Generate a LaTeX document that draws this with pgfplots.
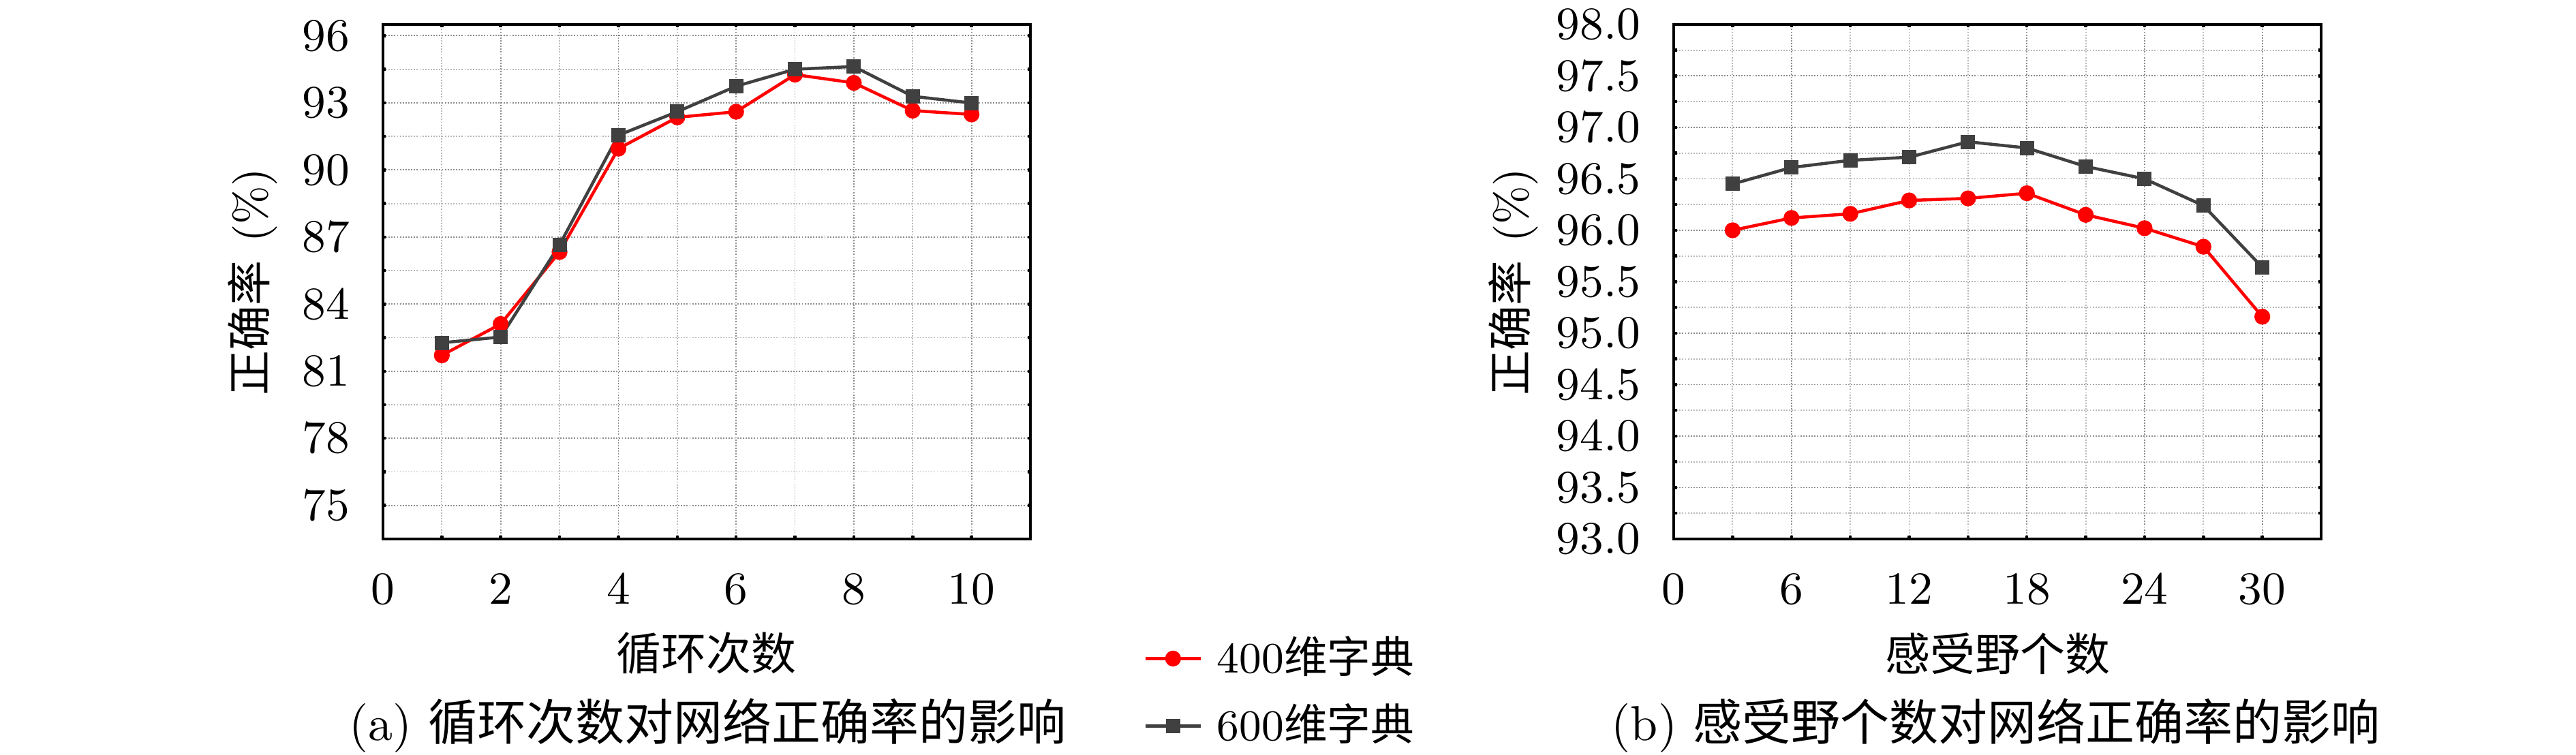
\documentclass[border=0pt]{standalone}
\usepackage{fontspec}
\usepackage{pgfplots}
\pgfplotsset{compat=1.18}
\usepackage{pgfplotstable}
\newfontfamily\cjk{Noto Sans CJK SC}
\definecolor{myred}{RGB}{255,0,0}
\definecolor{mygray}{RGB}{64,64,64}

\pgfplotstableread{
x a b
1 81.71 82.27
2 83.11 82.53
3 86.33 86.65
4 90.95 91.55
5 92.35 92.60
6 92.60 93.74
7 94.26 94.50
8 93.89 94.62
9 92.65 93.29
10 92.48 92.99
}\loopdata

\pgfplotstableread{
x a b
3 96.00 96.45
6 96.12 96.61
9 96.16 96.68
12 96.29 96.71
15 96.31 96.86
18 96.36 96.80
21 96.15 96.62
24 96.02 96.50
27 95.84 96.24
30 95.16 95.64
}\fielddata

\pgfplotsset{
  mystyle/.style={
    scale only axis, width=126.67pt, height=100.67pt,
    axis line style={line width=0.45pt},
    tick style={black, line width=0.6pt},
    major tick length=0.6pt, minor tick length=0.6pt,
    grid=both,
    major grid style={dash pattern=on 0.25pt off 0.3pt, black!45, line width=0.25pt},
    minor grid style={dash pattern=on 0.25pt off 0.3pt, black!28, line width=0.25pt},
    tick label style={font=\fontsize{8.8}{10}\selectfont},
    yticklabel style={inner sep=0pt, anchor=east, xshift=-6.3pt},
    xticklabel style={inner sep=0pt, anchor=north, yshift=-6.8pt},
    label style={font=\fontsize{8.8}{10}\selectfont\cjk},
    xlabel style={at={(axis description cs:0.5,-0.2225)}, anchor=center},
    minor x tick num=1, minor y tick num=1,
    legend image code/.code={\draw[mark repeat=2,mark phase=2,#1] plot coordinates {(0pt,0pt) (5.4pt,0pt) (10.8pt,0pt)};},
  },
  redline/.style={myred, line width=0.6pt, mark=*, mark size=1.25pt, mark options={solid, fill=myred}},
  grayline/.style={mygray, line width=0.6pt, mark=square*, mark size=1.1pt, mark options={solid, fill=mygray}},
}

\begin{document}
\begin{tikzpicture}
\begin{axis}[mystyle,
  at={(74.93pt,42.27pt)}, anchor=south west,
  xmin=0, xmax=11, ymin=73.5, ymax=96.5,
  xtick={0,2,4,6,8,10},
  ytick={75,78,81,84,87,90,93,96},
  xlabel={循环次数},
  ylabel={正确率\hspace{3.5pt}{\rmfamily(\%)}},
  ylabel style={at={(axis description cs:-0.201,0.5)}, anchor=center, rotate=0},
  legend style={at={(axis description cs:1.3842,-0.298)}, anchor=center, draw=none, fill=none,
    inner sep=0pt, row sep=4.5pt, column sep=2.9pt, font=\fontsize{8.5}{10}\selectfont,
    nodes={inner sep=0pt}},
  legend cell align=left,
]
\addplot[redline] table[x=x, y=a] {\loopdata};
\addlegendentry{400{\cjk 维字典}}
\addplot[grayline] table[x=x, y=b] {\loopdata};
\addlegendentry{600{\cjk 维字典}}
\end{axis}

\begin{axis}[mystyle,
  at={(327.47pt,42.27pt)}, anchor=south west,
  xmin=0, xmax=33, ymin=93, ymax=98,
  xtick={0,6,12,18,24,30},
  ytick={93,93.5,94,94.5,95,95.5,96,96.5,97,97.5,98},
  yticklabel={\pgfmathprintnumber[fixed,fixed zerofill,precision=1]{\tick}},
  xlabel={感受野个数},
  ylabel={正确率\hspace{3.5pt}{\rmfamily(\%)}},
  ylabel style={at={(axis description cs:-0.2476,0.5)}, anchor=center, rotate=0},
]
\addplot[redline] table[x=x, y=a] {\fielddata};
\addplot[grayline] table[x=x, y=b] {\fielddata};
\end{axis}

\node[font=\fontsize{9.6}{11}\selectfont] at (138.53pt,5.73pt) {(a) {\cjk 循环次数对网络正确率的影响}};
\node[font=\fontsize{9.6}{11}\selectfont] at (390.53pt,5.73pt) {(b) {\cjk 感受野个数对网络正确率的影响}};

\pgfresetboundingbox
\useasboundingbox (0,0) rectangle (504pt,147.73pt);
\end{tikzpicture}
\end{document}
